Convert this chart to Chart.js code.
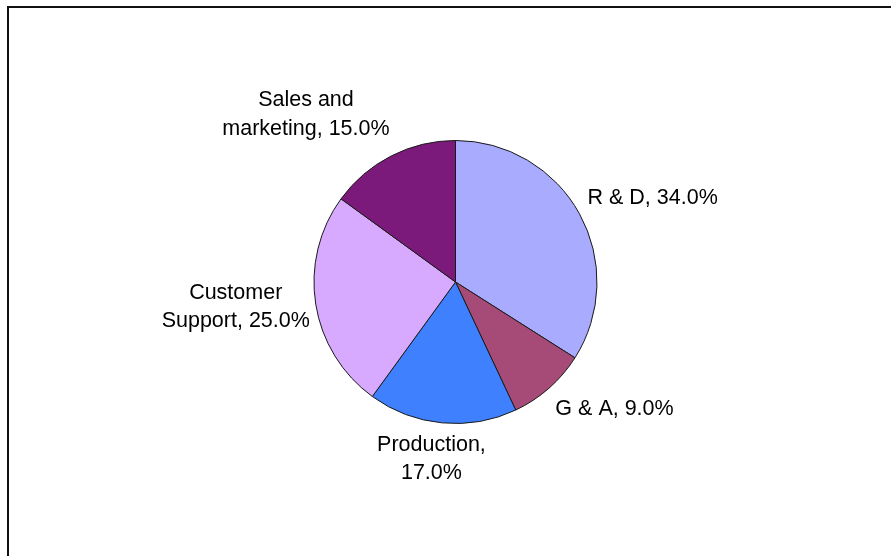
<!DOCTYPE html>
<html>
<head>
<meta charset="utf-8">
<script src="https://cdn.jsdelivr.net/npm/chart.js@4/dist/chart.umd.min.js"></script>
<style>
  html, body { margin: 0; padding: 0; background: #fff; }
  #costChart { display: block; }
</style>
</head>
<body>
<canvas id="costChart" width="891" height="556"></canvas>
<script>
var categories = ["R & D", "G & A", "Production", "Customer Support", "Sales and marketing"];
var shares = [34, 9, 17, 25, 15];
var sliceColors = ["#A9ABFF", "#A64B78", "#3F80FF", "#D7A9FF", "#7B1A7A"];

// small hand tweaks for where each label sits
var labelNudge = [[1, -5], [1, 4], [-10, 0], [2, -3], [2, -9]];

var labelFont = "21.5px 'Liberation Sans', Arial, sans-serif";
var lineHeight = 28.5;
var wrapWidth = 171;

function wrapText(ctx, text) {
  var words = text.split(" ");
  var lines = [];
  var cur = "";
  words.forEach(function(w) {
    var test = cur ? cur + " " + w : w;
    if (cur && ctx.measureText(test).width > wrapWidth) {
      lines.push(cur);
      cur = w;
    } else {
      cur = test;
    }
  });
  if (cur) lines.push(cur);
  return lines;
}

// outside labels, placed off each slice's mid angle
var pieLabels = {
  id: "pieLabels",
  afterDatasetsDraw: function(chart) {
    var ctx = chart.ctx;
    var meta = chart.getDatasetMeta(0);
    var total = shares.reduce(function(a, b) { return a + b; }, 0);
    ctx.save();
    ctx.font = labelFont;
    ctx.fillStyle = "#000";
    ctx.textBaseline = "middle";
    meta.data.forEach(function(arc, i) {
      var p = arc.getProps(["x", "y", "startAngle", "endAngle", "outerRadius"], true);
      var mid = (p.startAngle + p.endAngle) / 2;
      var dx = Math.cos(mid), dy = Math.sin(mid);
      var R = p.outerRadius + 8;
      var ax = p.x + dx * R;
      var ay = p.y + dy * R;
      var text = categories[i] + ", " + (shares[i] / total * 100).toFixed(1) + "%";
      var lines = wrapText(ctx, text);
      var blockW = Math.max.apply(null, lines.map(function(l) { return ctx.measureText(l).width; }));
      var blockH = lines.length * lineHeight;
      var cx;
      if (dx > 0.3) cx = ax + blockW / 2;
      else if (dx < -0.3) cx = ax - blockW / 2;
      else cx = ax;
      var cy = ay + dy * blockH / 2;
      cx += labelNudge[i][0];
      cy += labelNudge[i][1];
      ctx.textAlign = "center";
      lines.forEach(function(l, k) {
        ctx.fillText(l, cx, cy + (k - (lines.length - 1) / 2) * lineHeight);
      });
    });
    ctx.restore();
  }
};

// frame lines along the top and left
var frame = {
  id: "frame",
  beforeDraw: function(chart) {
    var ctx = chart.ctx;
    ctx.save();
    ctx.fillStyle = "#fff";
    ctx.fillRect(0, 0, chart.width, chart.height);
    ctx.strokeStyle = "#111";
    ctx.lineWidth = 2;
    ctx.beginPath();
    ctx.moveTo(8, chart.height);
    ctx.lineTo(8, 7);
    ctx.lineTo(chart.width, 7);
    ctx.stroke();
    ctx.restore();
  }
};

new Chart(document.getElementById("costChart").getContext("2d"), {
  type: "pie",
  data: {
    labels: categories,
    datasets: [{
      data: shares,
      backgroundColor: sliceColors,
      borderColor: "#1a1a1a",
      borderWidth: 1
    }]
  },
  options: {
    responsive: false,
    animation: false,
    layout: {
      padding: { top: 140, bottom: 132, left: 313.5, right: 293.5 }
    },
    plugins: {
      legend: { display: false },
      tooltip: { enabled: false }
    }
  },
  plugins: [frame, pieLabels]
});
</script>
</body>
</html>
